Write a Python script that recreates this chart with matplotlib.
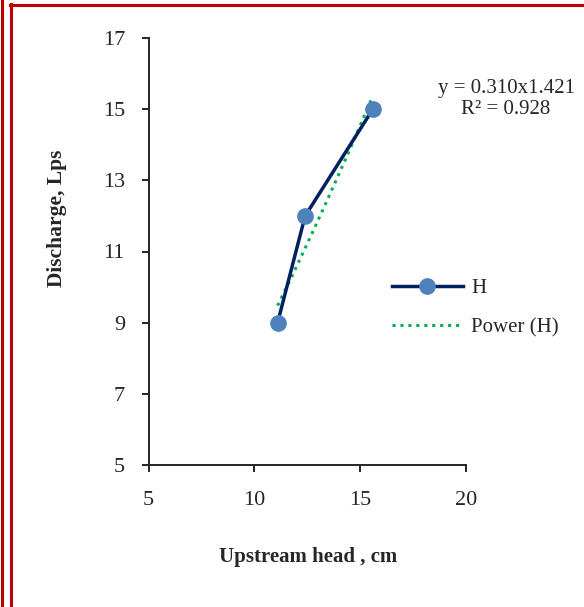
import numpy as np
import matplotlib.pyplot as plt
from matplotlib.lines import Line2D

# measured points
head = [11.1, 12.4, 15.6]
discharge = [9, 12, 15]

# excel power trendline y = a * x^b
fit_a = 0.310
fit_b = 1.421
r_squared = 0.928

x_ticks = [5, 10, 15, 20]
y_ticks = [5, 7, 9, 11, 13, 15, 17]

plt.rcParams['font.family'] = ['Liberation Serif', 'DejaVu Serif']

W, H = 584, 607
fs = 15
fig = plt.figure(figsize=(W / 100, H / 100), dpi=100)
ax = fig.add_axes([148.5 / W, 1 - 465 / H, (466 - 148.5) / W, (465 - 38) / H])

xs = np.linspace(min(head), max(head), 50)
ax.plot(xs, fit_a * xs ** fit_b, color='#00B050', lw=2.2, ls=(0, (1, 1.6)),
        label='Power (H)', zorder=2)
ax.plot(head, discharge, color='#002060', lw=2.5, marker='o', ms=11,
        mfc='#4F81BD', mec='#4F81BD', label='H', zorder=3)

ax.set_xlim(5, 20)
ax.set_ylim(5, 17)
ax.set_xticks(x_ticks)
ax.set_yticks(y_ticks)
for s in ['top', 'right']:
    ax.spines[s].set_visible(False)
for s in ['left', 'bottom']:
    ax.spines[s].set_linewidth(1.4)
    ax.spines[s].set_color('#262626')
ax.tick_params(axis='both', direction='out', length=5, width=1.4,
               color='#262626', labelsize=fs + 1, labelcolor='#262626')
ax.tick_params(axis='y', pad=12)
ax.tick_params(axis='x', pad=14)

fig.text(308 / W, 1 - 557 / H, 'Upstream head , cm', fontsize=fs,
         fontweight='bold', ha='center', va='center', color='#262626')
fig.text(57 / W, 1 - 218 / H, 'Discharge, Lps', fontsize=fs + 0.5,
         fontweight='bold', ha='center', va='center', rotation=90,
         color='#262626')

fig.text(506 / W, 1 - 88 / H, 'y = %.3fx%.3f' % (fit_a, fit_b), fontsize=fs,
         ha='center', va='center', color='#262626')
fig.text(506 / W, 1 - 110 / H, 'R² = %.3f' % r_squared, fontsize=fs,
         ha='center', va='center', color='#262626')

handles, labels = ax.get_legend_handles_labels()
ax.legend(handles[::-1], labels[::-1], loc='center left',
          bbox_to_anchor=(373 / W, 1 - 308 / H), bbox_transform=fig.transFigure,
          frameon=False, fontsize=fs, handlelength=3.4, handletextpad=0.4,
          labelspacing=0.95, labelcolor='#262626')

# red double frame
red = '#C00000'
fig.add_artist(Line2D([1.5 / W, 1.5 / W], [0, 1], color=red, lw=2.2))
fig.add_artist(Line2D([11 / W, 11 / W], [0, 1 - 4 / H], color=red, lw=2.2))
fig.add_artist(Line2D([10 / W, 1], [1 - 5 / H, 1 - 5 / H], color=red, lw=2.2))

fig.savefig('out.png', dpi=100)
